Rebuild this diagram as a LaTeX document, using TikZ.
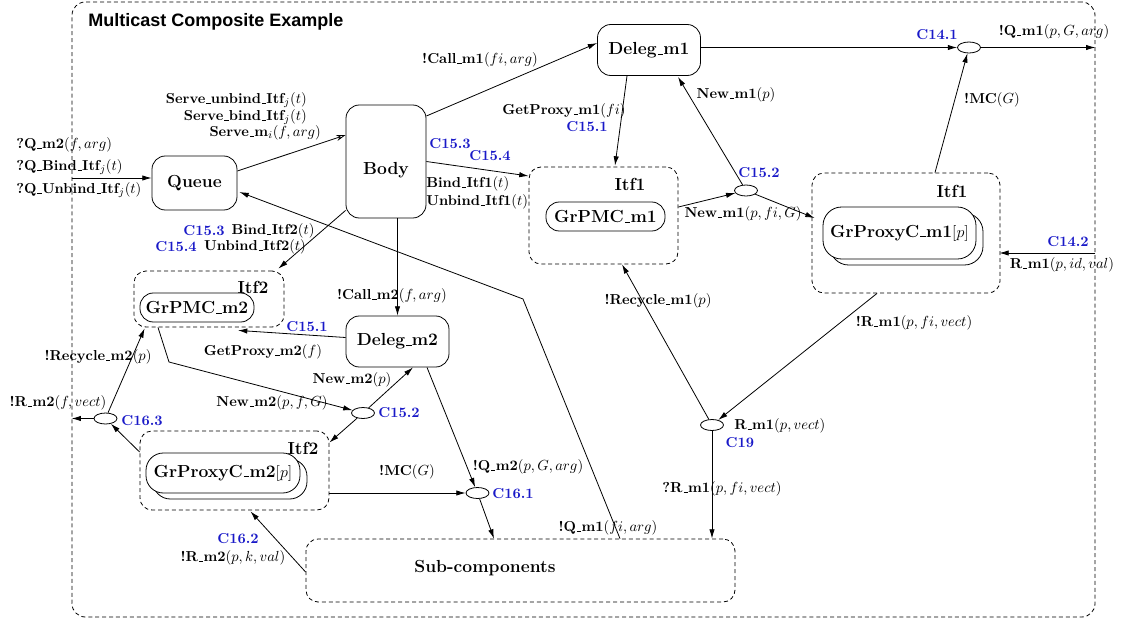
\documentclass[tikz,border=0pt]{standalone}
\usepackage{fontspec}
\newfontfamily\titlefont{Liberation Sans}
\usetikzlibrary{arrows.meta,shapes.geometric,calc}
\definecolor{cblue}{RGB}{25,25,200}
\newcommand\usc{\leavevmode\kern.06em\vbox{\hrule height 0.55pt width .3em}\kern.02em}
\begin{document}
\begin{tikzpicture}[x=0.75pt,y=-0.75pt,
  every node/.style={inner sep=0pt},
  lbl/.style={font=\fontsize{10.8}{12}\selectfont\bfseries},
  clbl/.style={lbl,text=cblue},
  nm/.style={font=\fontsize{13.1}{15}\selectfont\bfseries},
  ln/.style={line width=0.6pt},
  box/.style={draw,ln,nm,rounded corners=10pt},
  dbox/.style={draw,ln,dash pattern=on 3pt off 2.2pt,rounded corners=9pt},
  pill/.style={draw,ln,nm,rounded corners=10pt},
  cj/.style={draw,ln,ellipse,minimum width=17.25pt,minimum height=8.25pt},
  arr/.style={ln,-{Latex[length=7pt,width=4pt]}},
  oarr/.style={ln,-{Stealth[open,length=7pt,width=4.5pt]}},
]
\useasboundingbox (0,0) rectangle (1122,622);

% frame and title
\node[dbox,minimum width=767.25pt,minimum height=461.25pt,rounded corners=10pt] (outer) at (583.5,309.5) {};
\node[anchor=west,font=\titlefont\fontsize{13.5}{16}\selectfont\bfseries] (title) at (88,22) {Multicast Composite Example};

% main nodes
\node[box,minimum width=63.75pt,minimum height=40.5pt] (queue) at (194.5,183) {Queue};
\node[box,minimum width=60pt,minimum height=84.75pt,text height=20pt,text depth=0pt] (body) at (386,161.5) {Body};
\node[box,minimum width=77.25pt,minimum height=38.25pt] (delegA) at (649,50) {Deleg\usc m1};
\node[dbox,minimum width=111.75pt,minimum height=72.75pt] (itfA) at (603.5,215.5) {};
\node[nm] (itfAl) at (630,184) {Itf1};
\node[pill,minimum width=89.25pt,minimum height=21.75pt] (pmcA) at (605.5,216.5) {GrPMC\usc m1};
\node[dbox,minimum width=141pt,minimum height=90pt] (itfB) at (906,233) {};
\node[nm] (itfBl) at (952,191) {Itf1};
\node[draw,ln,rounded corners=14pt,minimum width=114.75pt,minimum height=39pt] (proxyAb) at (906.5,239) {};
\node[draw,ln,fill=white,nm,rounded corners=14pt,minimum width=114.75pt,minimum height=39pt] (proxyA) at (899.5,233) {GrProxyC\usc m1$[p]$};

\node[cj] (c141) at (969,47.5) {};
\node[cj] (c152a) at (746,190.5) {};
\node[cj] (c152b) at (363,413) {};
\node[cj] (c161) at (477.5,493) {};
\node[cj] (c19) at (712,425) {};
\node[cj] (c163) at (105.5,418.5) {};

\node[dbox,minimum width=112.5pt,minimum height=42pt] (itfC) at (209,299) {};
\node[nm] (itfCl) at (253,287) {Itf2};
\node[pill,fill=white,minimum width=85.5pt,minimum height=21.75pt] (pmcB) at (197,307.5) {GrPMC\usc m2};
\node[box,minimum width=77.25pt,minimum height=38.25pt] (delegB) at (397.5,341.5) {Deleg\usc m2};
\node[dbox,minimum width=141.75pt,minimum height=59.25pt] (itfD) at (234.5,470.5) {};
\node[nm] (itfDl) at (303,448) {Itf2};
\node[draw,ln,rounded corners=13pt,minimum width=115.5pt,minimum height=30pt] (proxyBb) at (230,479) {};
\node[draw,ln,fill=white,nm,rounded corners=13pt,minimum width=115.5pt,minimum height=30pt] (proxyB) at (223,473) {GrProxyC\usc m2$[p]$};
\node[dbox,minimum width=321.75pt,minimum height=47.25pt] (sub) at (520.5,570.5) {};
\node[nm] (subl) at (485,568) {Sub-components};

% helper coordinates
\coordinate (qin) at ($(queue.west)+(0,-5)$);
\coordinate (c142end) at ($(itfB.east)+(-1,20)$);
\coordinate (bendq) at (523,299);
\coordinate (bendn) at (169,362);

% connectors
\draw[arr] (outer.west |- qin) -- (qin);
\draw[oarr] ($(queue.east)+(0,-12)$) -- ($(body.west)+(0,-26.5)$);
\draw[arr] ($(body.east)+(0,-45.5)$) -- ($(delegA.west)+(0,-7)$);
\draw[arr] (body.east) -- ($(itfA.west)+(0,-39.5)$);
\draw[arr] ($(delegA.south)+(-22,0)$) -- ($(itfA.north)+(11.5,-1)$);
\draw[arr] (delegA.east |- c141) -- (c141.west);
\draw[arr] (c141.east) -- (outer.east |- c141);
\draw[arr] ($(itfB.north)+(29,0)$) -- (c141);
\draw[arr] (c152a) -- ($(delegA.south)+(29,1)$);
\draw[arr] ($(itfA.east)+(0,-8.5)$) -- (c152a);
\draw[arr] (c152a) -- ($(itfB.west)+(3,-15)$);
\draw[arr] (outer.east |- c142end) -- (c142end);
\draw[arr] ($(itfB.south)+(-29,0)$) -- (c19);
\draw[arr] (c19) -- ($(itfA.south)+(18.5,0)$);
\draw[arr] (c19) -- (c19 |- sub.north);
\draw[arr] ($(sub.north)+(99.5,0)$) -- (bendq) -- ($(queue.east)+(2,9)$);
\draw[arr] ($(body.south west)+(0,-8)$) -- ($(itfC.north east)+(-6,-2)$);
\draw[arr] (body.south -| delegB.north) -- (delegB.north);
\draw[arr] ($(delegB.west)+(0,-4)$) -- ($(itfC.south)+(29,3)$);
\draw[arr] ($(itfC.south)+(-51,0)$) -- (bendn) -- (c152b);
\draw[arr] (c152b) -- ($(delegB.south)+(15.5,0)$);
\draw[arr] (c152b) -- ($(itfD.east)+(0,-28)$);
\draw[arr] ($(delegB.south)+(29.5,0)$) -- (c161);
\draw[arr] (itfD.east |- c161) -- (c161.west);
\draw[arr] (c161) -- ($(sub.north)+(-26.5,0)$);
\draw[arr] ($(sub.west)+(0,1.5)$) -- ($(itfD.south)+(16,1)$);
\draw[arr] ($(itfD.west)+(0,-18.5)$) -- (c163);
\draw[arr] (c163) -- ($(itfC.south west)+(11,1)$);
\draw[arr] (c163.west) -- (outer.west |- c163);

% labels
\node[lbl,anchor=west] (lq1) at (16,145) {?Q\usc m2$(f,arg)$};
\node[lbl,anchor=west] (lq2) at (16,167) {?Q\usc Bind\usc Itf$_j(t)$};
\node[lbl,anchor=west] (lq3) at (16,190) {?Q\usc Unbind\usc Itf$_j(t)$};
\node[lbl,anchor=east] (ls1) at (307,100) {Serve\usc unbind\usc Itf$_j(t)$};
\node[lbl,anchor=east] (ls2) at (307,117) {Serve\usc bind\usc Itf$_j(t)$};
\node[lbl,anchor=east] (ls3) at (321,133) {Serve\usc m$_i(f,arg)$};
\node[lbl] (lcall1) at (480,60) {!Call\usc m1$(fi,arg)$};
\node[clbl] (c153a) at (450,144) {C15.3};
\node[clbl] (c154a) at (490,156) {C15.4};
\node[lbl,anchor=west] (lb1) at (426,184) {Bind\usc Itf1$(t)$};
\node[lbl,anchor=west] (lu1) at (426,202) {Unbind\usc Itf1$(t)$};
\node[lbl] (lgp1) at (564,111) {GetProxy\usc m1$(fi)$};
\node[clbl] (c151a) at (587,127) {C15.1};
\node[clbl] (lc141) at (937,35) {C14.1};
\node[lbl] (lqm1) at (1054,32) {!Q\usc m1$(p,G,arg)$};
\node[lbl] (lmc1) at (992,100) {!MC$(G)$};
\node[lbl] (lnew1) at (736,95) {New\usc m1$(p)$};
\node[clbl] (lc152a) at (759,173) {C15.2};
\node[lbl] (lnew1b) at (743,214) {New\usc m1$(p,fi,G)$};
\node[clbl] (lc142) at (1068,242) {C14.2};
\node[lbl] (lrm1) at (1062,265) {R\usc m1$(p,id,val)$};
\node[lbl] (lrm1b) at (914,323) {!R\usc m1$(p,fi,vect)$};
\node[lbl] (lrec1) at (658,301) {!Recycle\usc m1$(p)$};
\node[lbl,anchor=west] (lrm1c) at (734,426) {R\usc m1$(p,vect)$};
\node[clbl] (lc19) at (740,443) {C19};
\node[lbl] (lrm1d) at (722,489) {?R\usc m1$(p,fi,vect)$};
\node[lbl] (lqm1b) at (608,528) {!Q\usc m1$(fi,arg)$};
\node[clbl] (c153b) at (204,231) {C15.3};
\node[lbl] (lb2) at (273,231) {Bind\usc Itf2$(t)$};
\node[clbl] (c154b) at (176,247) {C15.4};
\node[lbl] (lu2) at (255,247) {Unbind\usc Itf2$(t)$};
\node[lbl] (lcall2) at (392,296) {!Call\usc m2$(f,arg)$};
\node[clbl] (c151b) at (307,327) {C15.1};
\node[lbl] (lgp2) at (263,352) {GetProxy\usc m2$(f)$};
\node[lbl] (lnew2) at (352,380) {New\usc m2$(p)$};
\node[lbl] (lnew2b) at (272,403) {New\usc m2$(p,f,G)$};
\node[clbl] (lc152b) at (399,413) {C15.2};
\node[lbl] (lqm2) at (528,467) {!Q\usc m2$(p,G,arg)$};
\node[lbl] (lmc2) at (407,472) {!MC$(G)$};
\node[clbl] (lc161) at (513,494) {C16.1};
\node[clbl] (lc162) at (238,539) {C16.2};
\node[lbl] (lrm2) at (233,558) {!R\usc m2$(p,k,val)$};
\node[lbl] (lrec2) at (98,357) {!Recycle\usc m2$(p)$};
\node[lbl] (lrm2b) at (58,403) {!R\usc m2$(f,vect)$};
\node[clbl] (lc163) at (142,421) {C16.3};
\end{tikzpicture}
\end{document}
